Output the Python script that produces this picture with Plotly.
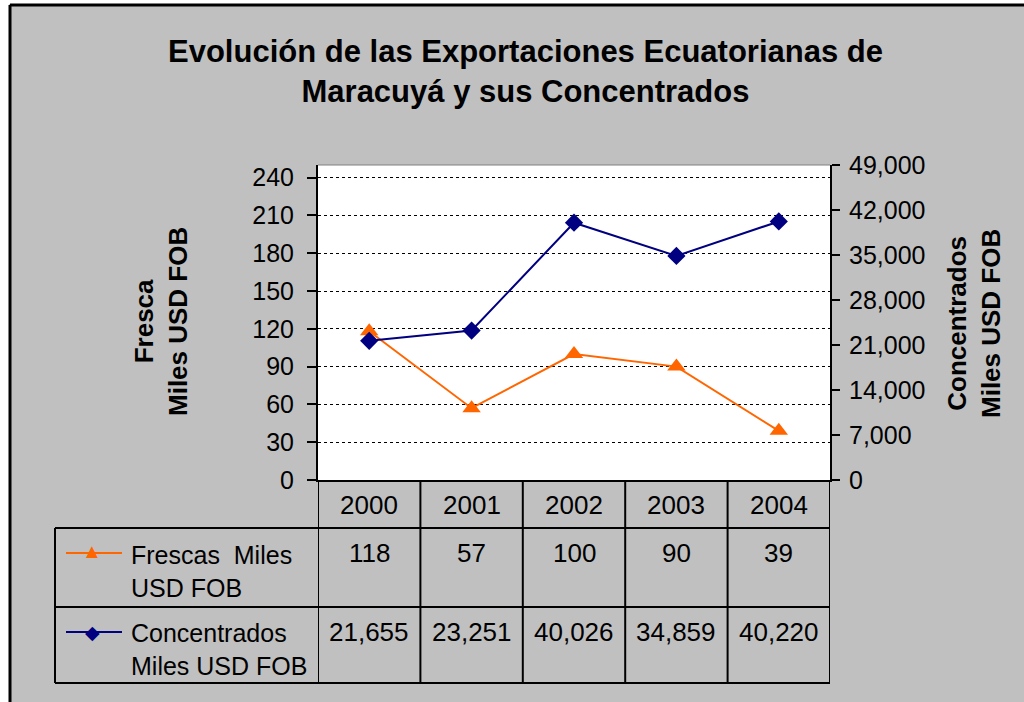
import plotly.graph_objects as go

years = ["2000", "2001", "2002", "2003", "2004"]
frescas = [118, 57, 100, 90, 39]
concentrados = [21655, 23251, 40026, 34859, 40220]
left_ticks = [0, 30, 60, 90, 120, 150, 180, 210, 240]
right_ticks = [0, 7000, 14000, 21000, 28000, 35000, 42000, 49000]

W, H = 1024, 702
FONT = "Liberation Sans, Arial, sans-serif"
ORANGE = "#FF6600"
NAVY = "#000080"


def px(x):
    return x / W


def py(y):
    return 1 - y / H


fig = go.Figure()
fig.add_trace(go.Scatter(
    x=years, y=frescas, name="Frescas Miles USD FOB", mode="lines+markers",
    line=dict(color=ORANGE, width=2),
    marker=dict(symbol="triangle-up", size=16, color=ORANGE),
))
fig.add_trace(go.Scatter(
    x=years, y=concentrados, name="Concentrados Miles USD FOB", yaxis="y2",
    mode="lines+markers", line=dict(color=NAVY, width=2),
    marker=dict(symbol="diamond", size=14, color=NAVY),
))

# inner halves of the crossing ticks (no labels)
inner = dict(ticks="inside", ticklen=7, tickcolor="black", tickwidth=2,
             showticklabels=False, showgrid=False, zeroline=False,
             showline=False)

# plot area: x 318..830, y 165..480 (pixels)
fig.update_layout(
    width=W, height=H,
    margin=dict(l=0, r=0, t=0, b=0, autoexpand=False),
    paper_bgcolor="#C0C0C0", plot_bgcolor="white",
    showlegend=False,
    font=dict(family=FONT, size=26, color="black"),
    xaxis=dict(
        domain=[px(318), px(830)], type="category", range=[-0.5, 4.5],
        showticklabels=False, ticks="", showgrid=False,
        showline=True, linecolor="black", linewidth=2,
    ),
    yaxis=dict(
        domain=[py(480), py(165)], range=[0, 250], tickvals=left_ticks,
        ticks="outside", ticklen=9, tickcolor="black", tickwidth=2,
        showline=True, linecolor="black", linewidth=2,
        showgrid=True, gridcolor="black", gridwidth=1, griddash="dot",
        zeroline=False, tickfont=dict(size=25), ticklabelstandoff=8,
    ),
    yaxis2=dict(
        overlaying="y", side="right", range=[0, 49000], tickvals=right_ticks,
        tickformat=",", ticks="outside", ticklen=8, tickcolor="black",
        tickwidth=2, showline=True, linecolor="black", linewidth=2,
        showgrid=False, zeroline=False, tickfont=dict(size=25),
        ticklabelstandoff=4,
    ),
    yaxis3=dict(overlaying="y", side="left", range=[0, 250],
                tickvals=left_ticks, **inner),
    yaxis4=dict(overlaying="y", side="right", range=[0, 49000],
                tickvals=right_ticks, **inner),
)

shapes = []
# white strip outside the chart frame + frame lines
shapes.append(dict(type="rect", xref="paper", yref="paper", x0=0, x1=px(9),
                   y0=0, y1=1, fillcolor="white", line=dict(width=0)))
shapes.append(dict(type="rect", xref="paper", yref="paper", x0=0, x1=1,
                   y0=py(4), y1=1, fillcolor="white", line=dict(width=0)))
shapes.append(dict(type="line", xref="paper", yref="paper", x0=px(10), x1=1,
                   y0=py(5), y1=py(5), line=dict(color="black", width=3)))
shapes.append(dict(type="line", xref="paper", yref="paper", x0=px(10), x1=px(10),
                   y0=0, y1=py(5), line=dict(color="black", width=3)))
# plot area top border
shapes.append(dict(type="line", xref="x", yref="paper", x0=-0.5, x1=4.5,
                   y0=py(165), y1=py(165), line=dict(color="#808080", width=1)))

# data table
row_tops = [528, 607, 683]
for yy in row_tops:
    shapes.append(dict(type="line", xref="paper", yref="paper", x0=px(55),
                       x1=px(830), y0=py(yy), y1=py(yy),
                       line=dict(color="black", width=2)))
shapes.append(dict(type="line", xref="paper", yref="paper", x0=px(55), x1=px(55),
                   y0=py(683), y1=py(528), line=dict(color="black", width=2)))
for i in range(len(years) + 1):
    shapes.append(dict(type="line", xref="x", yref="paper", x0=i - 0.5, x1=i - 0.5,
                       y0=py(683), y1=py(480), line=dict(color="black", width=2)))
# legend keys
for yy, col in [(553, ORANGE), (632, NAVY)]:
    shapes.append(dict(type="line", xref="paper", yref="paper", x0=px(66),
                       x1=px(122), y0=py(yy), y1=py(yy),
                       line=dict(color=col, width=2)))
fig.update_layout(shapes=shapes)


def note(text, x, y, xref="paper", **kw):
    d = dict(text=text, xref=xref, yref="paper", x=x, y=y, showarrow=False,
             xanchor="center", yanchor="middle")
    d.update(kw)
    return d


ann = []
ann.append(note("<b>Evolución de las Exportaciones Ecuatorianas de<br>"
                "Maracuyá y sus Concentrados</b>", px(525), py(71),
                font=dict(size=31)))
ann.append(note("<b>Fresca<br>Miles USD FOB</b>", px(161), py(322),
                textangle=-90, font=dict(size=26)))
ann.append(note("<b>Concentrados<br>Miles USD FOB</b>", px(974), py(324),
                textangle=-90, font=dict(size=26)))
for i, yr in enumerate(years):
    ann.append(note(yr, i, py(505), xref="x"))
    ann.append(note(f"{frescas[i]:,}", i, py(553), xref="x"))
    ann.append(note(f"{concentrados[i]:,}", i, py(632), xref="x"))
ann.append(note("Frescas  Miles<br>USD FOB", px(129), py(571),
                xanchor="left", align="left", font=dict(size=25)))
ann.append(note("Concentrados<br>Miles USD FOB", px(129), py(649),
                xanchor="left", align="left", font=dict(size=25)))
ann.append(note("▲", px(92), py(551), font=dict(size=20, color=ORANGE)))
ann.append(note("◆", px(92), py(632), font=dict(size=19, color=NAVY)))
fig.update_layout(annotations=ann)

fig.write_html("out.html", config={"displayModeBar": False},
               post_script="document.body.style.margin='0';")
